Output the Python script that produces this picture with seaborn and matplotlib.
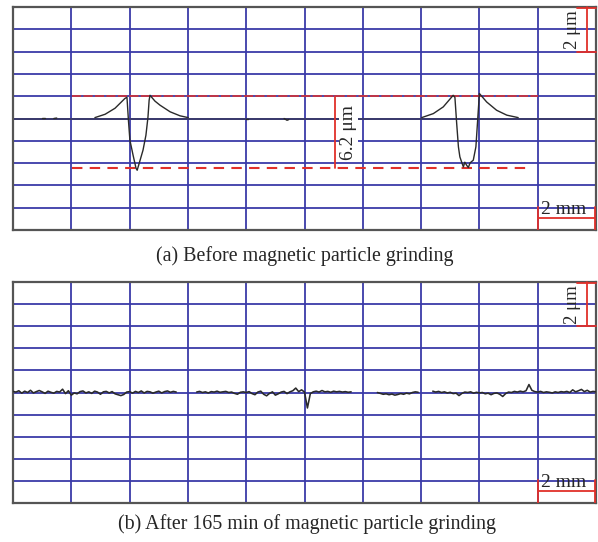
import numpy as np
import pandas as pd
import seaborn as sns
import matplotlib.pyplot as plt

# profile (a): before grinding, x in mm, height in um, one list per trace piece
a_seg = [0, 0, 1, 1, 2, 2, 3, 3, 3]
a_x = [1.00, 1.10, 1.40, 1.50, 8.00, 8.06, 9.30, 9.40, 9.46]
a_y = [0.02, 0.02, 0.00, 0.02, 0.00, 0.00, 0.00, -0.08, -0.05]

dent1_x = [2.81, 3.16, 3.50, 3.84, 3.91, 3.96, 4.01, 4.12, 4.22, 4.26, 4.36, 4.46,
           4.56, 4.63, 4.67, 4.70, 4.87, 5.04, 5.39, 5.73, 6.01]
dent1_y = [0.04, 0.19, 0.46, 0.90, 0.95, -0.08, -0.97, -1.65, -2.23, -2.32, -1.87, -1.42,
           -0.75, 0.06, 0.82, 1.04, 0.78, 0.60, 0.30, 0.12, 0.04]

dent2_x = [14.02, 14.42, 14.76, 15.10, 15.16, 15.22, 15.28, 15.33, 15.39, 15.45, 15.50,
           15.56, 15.62, 15.68, 15.79, 15.88, 15.94, 16.00, 16.25, 16.59, 16.94, 17.33]
dent2_y = [0.04, 0.22, 0.52, 1.04, 0.95, -0.21, -1.27, -1.72, -1.95, -2.17, -1.96,
           -2.09, -2.20, -1.99, -1.87, -1.27, -0.08, 1.12, 0.74, 0.37, 0.15, 0.04]

# profile (b): after 165 min of grinding
b1_x = [0.0, 0.1, 0.2, 0.3, 0.4, 0.5, 0.6, 0.7, 0.8, 0.9,
        1.0, 1.1, 1.2, 1.3, 1.4, 1.5, 1.6, 1.7, 1.8, 1.9,
        2.0, 2.1, 2.2, 2.3, 2.4, 2.5, 2.6, 2.7, 2.8, 2.9,
        3.0, 3.1, 3.2, 3.3, 3.4, 3.5, 3.6, 3.7, 3.8, 3.9,
        4.0, 4.1, 4.2, 4.3, 4.4, 4.5, 4.6, 4.7, 4.8, 4.9,
        5.0, 5.1, 5.2, 5.3, 5.4, 5.5, 5.6]
b1_y = [0.05, 0.02, 0.08, -0.03, 0.06, 0.00, 0.10, -0.02, 0.04, 0.09,
        0.03, -0.04, 0.06, 0.01, -0.03, 0.05, 0.02, 0.15, -0.05, 0.08,
        -0.12, -0.02, -0.06, 0.04, 0.07, -0.02, 0.03, -0.04, 0.06, 0.02,
        -0.08, 0.03, 0.05, -0.02, 0.04, -0.06, -0.10, -0.14, -0.09, 0.02,
        0.04, -0.03, 0.05, 0.00, 0.07, -0.02, 0.05, 0.03, -0.03, 0.02,
        0.06, -0.02, 0.04, 0.07, 0.01, 0.05, 0.02]
b2_x = [6.3, 6.4, 6.5, 6.6, 6.7, 6.8, 6.9, 7.0, 7.1, 7.2,
        7.3, 7.4, 7.5, 7.6, 7.7, 7.8, 7.9, 8.0, 8.1, 8.2,
        8.3, 8.4, 8.5, 8.6, 8.7, 8.8, 8.9, 9.0, 9.1, 9.2,
        9.3, 9.4, 9.5, 9.6, 9.7, 9.8, 9.9, 10.0, 10.1, 10.2,
        10.3, 10.4, 10.5, 10.6, 10.7, 10.8, 10.9, 11.0, 11.1, 11.2,
        11.3, 11.4, 11.5, 11.6]
b2_y = [0.02, 0.05, 0.00, 0.03, -0.02, 0.04, 0.02, 0.06, 0.01, 0.03,
        0.05, 0.00, 0.02, -0.04, -0.08, 0.01, 0.03, 0.00, 0.04, -0.05,
        -0.10, 0.02, 0.06, -0.08, -0.15, -0.04, 0.03, -0.12, -0.06, 0.02,
        0.05, -0.05, 0.03, 0.08, 0.20, 0.04, 0.12, 0.02, -0.70, -0.05,
        0.03, 0.06, 0.02, 0.09, 0.03, 0.05, 0.01, 0.06, 0.03, 0.05,
        0.02, 0.04, 0.01, 0.03]
b3_x = [12.5, 12.6, 12.7, 12.8, 12.9, 13.0, 13.1, 13.2, 13.3, 13.4, 13.5, 13.6, 13.7, 13.8, 13.9]
b3_y = [0.00, -0.04, -0.08, -0.06, -0.10, -0.07, -0.12, -0.09, -0.05, -0.08, -0.03, -0.06, 0.00, 0.03, 0.01]
b4_x = [14.4, 14.5, 14.6, 14.7, 14.8, 14.9, 15.0, 15.1, 15.2, 15.3,
        15.4, 15.5, 15.6, 15.7, 15.8, 15.9, 16.0, 16.1, 16.2, 16.3,
        16.4, 16.5, 16.6, 16.7, 16.8, 16.9, 17.0, 17.1, 17.2, 17.3,
        17.4, 17.5, 17.6, 17.7, 17.8, 17.9, 18.0, 18.1, 18.2, 18.3,
        18.4, 18.5, 18.6, 18.7, 18.8, 18.9, 19.0, 19.1, 19.2, 19.3,
        19.4, 19.5, 19.6, 19.7, 19.8, 19.9, 20.0]
b4_y = [0.06, 0.02, 0.05, 0.00, 0.03, -0.02, 0.01, -0.05, -0.03, -0.14,
        -0.04, 0.02, 0.00, 0.03, -0.03, 0.01, -0.02, 0.00, -0.06, -0.03,
        -0.10, -0.04, -0.02, -0.08, -0.18, -0.05, 0.02, 0.00, 0.05, 0.02,
        0.06, 0.03, 0.08, 0.36, 0.10, 0.04, 0.02, 0.05, 0.00, 0.03,
        0.01, -0.02, 0.03, 0.00, 0.04, 0.02, 0.05, 0.00, 0.12, 0.03,
        0.08, 0.14, 0.04, 0.10, 0.02, 0.05, 0.03]

captions = ["(a) Before magnetic particle grinding",
            "(b) After 165 min of magnetic particle grinding"]
depth_label = "6.2 μm"
depth_top, depth_bottom = 1.0, -2.22

BLUE = "#3a3aa8"
RED = "#e0302a"
INK = "#2a2a2a"


def build(pieces):
    frames = []
    for i, (xs, ys) in enumerate(pieces):
        frames.append(pd.DataFrame({"x": xs, "y": ys, "seg": i}))
    return pd.concat(frames, ignore_index=True)


dots = pd.DataFrame({"x": a_x, "y": a_y, "seg": a_seg})
prof_a = build([(dent1_x, dent1_y), (dent2_x, dent2_y)])
prof_a["seg"] += 10
prof_a = pd.concat([dots, prof_a], ignore_index=True)
prof_b = build([(b1_x, b1_y), (b2_x, b2_y), (b3_x, b3_y), (b4_x, b4_y)])

sns.set_style("white")
plt.rcParams["font.family"] = ["Liberation Serif", "DejaVu Serif"]

fig = plt.figure(figsize=(5.98, 5.42), dpi=100)
ax1 = fig.add_axes([13 / 598, 1 - 230 / 542, 583 / 598, 223 / 542])
ax2 = fig.add_axes([13 / 598, 1 - 503 / 542, 583 / 598, 221 / 542])


def panel(ax, data, lw):
    ax.set_xlim(0, 20)
    ax.set_ylim(-5, 5)
    ax.set_xticks(range(0, 21, 2))
    ax.set_yticks(range(-5, 6))
    ax.grid(True, color=BLUE, lw=1.3)
    ax.tick_params(length=0, labelbottom=False, labelleft=False)
    for s in ax.spines.values():
        s.set_color("#555555")
        s.set_linewidth(1.6)
    sns.lineplot(data=data, x="x", y="y", units="seg", estimator=None, sort=False,
                 color=INK, lw=lw, ax=ax, zorder=5)
    ax.set_xlabel("")
    ax.set_ylabel("")
    # 2 um scale bar
    ax.plot([19.69, 19.69], [5, 3], color=RED, lw=1.3, zorder=6, clip_on=False)
    ax.plot([19.35, 20], [4.97, 4.97], color=RED, lw=1.3, zorder=6, clip_on=False)
    ax.plot([19.35, 20], [3, 3], color=RED, lw=1.3, zorder=6, clip_on=False)
    ax.text(19.2, 3.98, "2 μm", rotation=90, ha="center", va="center", fontsize=13.5, zorder=7)
    # 2 mm scale bar
    ax.plot([18, 20], [-4.47, -4.47], color=RED, lw=1.3, zorder=6)
    ax.plot([18, 18], [-3.98, -5], color=RED, lw=1.3, zorder=6)
    ax.plot([19.97, 19.97], [-3.98, -5], color=RED, lw=1.3, zorder=6)
    ax.text(18.88, -4.45, "2 mm", ha="center", va="bottom", fontsize=14, zorder=7)


panel(ax1, prof_a, 1.0)
panel(ax2, prof_b, 1.15)

ax1.axhline(0, color="#3a3a66", lw=1.3, zorder=2)
ax1.plot([2.02, 18.0], [depth_top, depth_top], color=RED, lw=1.1, ls=(0, (6, 1.5)), zorder=4)
ax1.plot([2.02, 17.8], [depth_bottom, depth_bottom], color=RED, lw=1.5, ls=(0, (5, 3.5)), zorder=4)
ax1.plot([11.05, 11.05], [depth_top, depth_bottom], color=RED, lw=1.3, zorder=4)
ax1.text(11.5, (depth_top + depth_bottom) / 2, depth_label, rotation=90,
         ha="center", va="center", fontsize=14, zorder=7,
         bbox=dict(facecolor="white", edgecolor="none", pad=0.5))

fig.text(305 / 598, 1 - 256 / 542, captions[0], ha="center", va="center", fontsize=14.4)
fig.text(307 / 598, 1 - 524 / 542, captions[1], ha="center", va="center", fontsize=14.4)

fig.savefig("out.png", dpi=100, facecolor="white")
